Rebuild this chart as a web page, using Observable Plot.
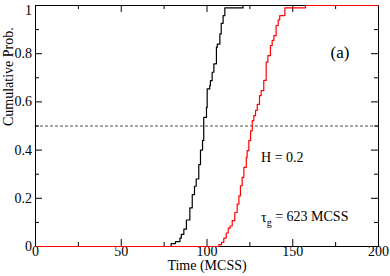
<!DOCTYPE html>
<html><head><meta charset="utf-8">
<script src="https://cdn.jsdelivr.net/npm/d3@7"></script>
<script src="https://cdn.jsdelivr.net/npm/@observablehq/plot@0.6"></script>
<style>
html,body{margin:0;padding:0;background:#fff;}
#chart svg, #chart svg text { font-family: "Liberation Serif", "Times New Roman", serif !important; font-variant-numeric: normal !important; }
</style>
</head><body><div id="chart"></div>
<script>
const blackTimes = [0,79.1,81.6,84.2,85,86.5,88,90,91.4,92.7,93.7,95.2,96.2,97.4,98.1,99.7,100.1,101.6,102,103,104,105.5,106,107.5,108.3,109.4,110.4,121,200];
const blackProbs = [0,0.012,0.02,0.035,0.05,0.072,0.11,0.16,0.215,0.25,0.28,0.34,0.40,0.44,0.536,0.577,0.654,0.668,0.688,0.723,0.758,0.827,0.84,0.882,0.926,0.958,0.99,1,1];
const redTimes = [0,106.9,108.5,109.8,111.2,112.4,113.5,114.7,116.2,117.6,118.6,119.5,120.5,121.5,122.9,123.4,124.4,125.4,126.4,127.3,128.3,129.3,130.6,131.6,133.1,134.5,135.5,137,138,139,140.3,141.5,142.4,145.4,157.4,200];
const redProbs = [0,0.008,0.017,0.035,0.056,0.076,0.085,0.107,0.141,0.176,0.21,0.252,0.287,0.328,0.37,0.398,0.439,0.48,0.522,0.543,0.565,0.59,0.626,0.647,0.689,0.765,0.792,0.834,0.855,0.875,0.917,0.94,0.958,0.99,1,1];
const xMajor = [0,50,100,150,200];
const xMinor = [25,75,125,175];
const yMajor = [0,0.2,0.4,0.6,0.8];
const yTop = [1];
const yMinor = [0.1,0.3,0.5,0.7,0.9];
const threshold = [0.5];
const annotations = [
  {x: 172, y: 0.805, text: "(a)", size: 17},
  {x: 131.5, y: 0.37, text: "H = 0.2", size: 14}
];
const tauLabel = {x: 131.5, y: 0.12, text: "τg = 623 MCSS"};

const black = blackTimes.map((t,i)=>({t, p: blackProbs[i]}));
const red = redTimes.map((t,i)=>({t, p: redProbs[i]}));

const W = 390, H = 276, mL = 35, mR = 12, mT = 5, mB = 30;
const fw = W - mL - mR, fh = H - mT - mB;
const fmt = d => (d === 0 || d === 1) ? String(d) : d.toFixed(1);
const FF = "Liberation Serif";

const chart = Plot.plot({
  width: W, height: H,
  marginLeft: mL, marginRight: mR, marginTop: mT, marginBottom: mB,
  x: {domain: [0,200], axis: null},
  y: {domain: [0,1], axis: null},
  style: {fontFamily: FF, fontSize: "14px", background: "#fff", color: "#000"},
  marks: [
    Plot.ruleY(threshold, {y: d=>d, stroke: "#222", strokeWidth: 0.8, strokeDasharray: "3,2"}),
    Plot.tickX(xMajor, {x: d=>d, insetTop: fh-7, stroke: "#000"}),
    Plot.tickX(xMinor, {x: d=>d, insetTop: fh-4, stroke: "#000"}),
    Plot.tickX(xMajor, {x: d=>d, insetBottom: fh-7, stroke: "#000"}),
    Plot.tickX(xMinor, {x: d=>d, insetBottom: fh-4, stroke: "#000"}),
    Plot.tickY(yMajor.concat(yTop), {y: d=>d, insetRight: fw-7, stroke: "#000"}),
    Plot.tickY(yMinor, {y: d=>d, insetRight: fw-4, stroke: "#000"}),
    Plot.tickY(yMajor.concat(yTop), {y: d=>d, insetLeft: fw-7, stroke: "#000"}),
    Plot.tickY(yMinor, {y: d=>d, insetLeft: fw-4, stroke: "#000"}),
    Plot.text(xMajor, {x: d=>d, frameAnchor: "bottom", dy: 9.5, text: d=>String(d), fontSize: 14, fontFamily: FF}),
    Plot.text(yMajor, {y: d=>d, frameAnchor: "left", dx: -3.5, textAnchor: "end", text: fmt, fontSize: 14, fontFamily: FF}),
    Plot.text(yTop, {y: d=>d, frameAnchor: "left", dx: -3.5, dy: 5, textAnchor: "end", text: fmt, fontSize: 14, fontFamily: FF}),
    Plot.text(["Time (MCSS)"], {frameAnchor: "bottom", dy: 23, fontSize: 14, fontFamily: FF}),
    Plot.text(["Cumulative Prob."], {frameAnchor: "left", rotate: -90, dx: -27, fontSize: 14, fontFamily: FF}),
    Plot.frame({stroke: "#000", strokeWidth: 1}),
    Plot.line(black, {x: "t", y: "p", curve: "step-after", stroke: "#000", strokeWidth: 1.2}),
    Plot.line(red, {x: "t", y: "p", curve: "step-after", stroke: "#ff0000", strokeWidth: 1.2}),
    Plot.text(annotations, {x: "x", y: "y", text: "text", fontSize: d => d.size, fontFamily: FF, textAnchor: "start"}),
    Plot.text([tauLabel], {x: "x", y: "y", text: "text", fontSize: 14, fontFamily: FF, textAnchor: "start"})
  ]
});
document.getElementById("chart").appendChild(chart);
// render subscript g
d3.select(chart).selectAll("text").filter(function(){ return this.textContent === tauLabel.text; })
  .each(function(){
    const t = d3.select(this);
    t.text(null);
    t.append("tspan").text("τ");
    t.append("tspan").attr("dy", "0.35em").attr("font-size", "10px").text("g");
    t.append("tspan").attr("dy", "-0.35em").text(" = 623 MCSS");
  });
</script>
</body></html>
